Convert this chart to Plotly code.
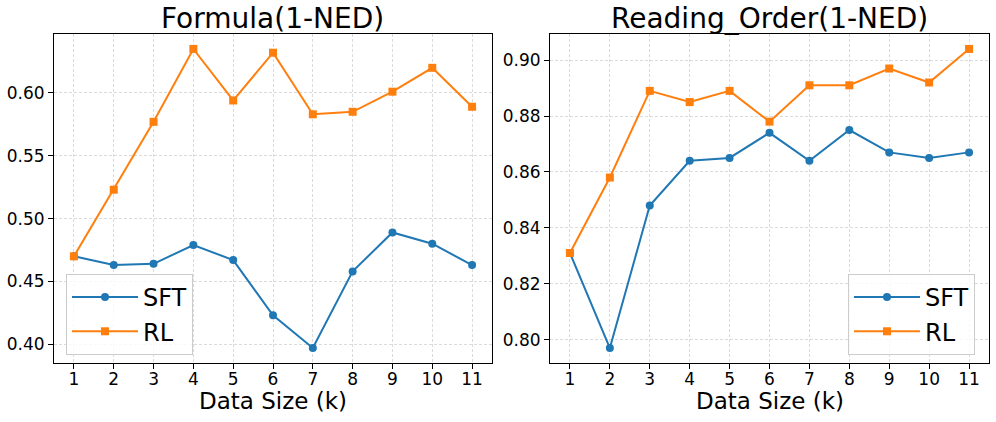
import plotly.graph_objects as go

data_size = [1, 2, 3, 4, 5, 6, 7, 8, 9, 10, 11]
formula_sft = [0.470, 0.463, 0.464, 0.479, 0.467, 0.423, 0.397, 0.458, 0.489, 0.480, 0.463]
formula_rl = [0.470, 0.523, 0.577, 0.635, 0.594, 0.632, 0.583, 0.585, 0.601, 0.620, 0.589]
reading_sft = [0.831, 0.797, 0.848, 0.864, 0.865, 0.874, 0.864, 0.875, 0.867, 0.865, 0.867]
reading_rl = [0.831, 0.858, 0.889, 0.885, 0.889, 0.878, 0.891, 0.891, 0.897, 0.892, 0.904]
titles = ["Formula(1-NED)", "Reading_Order(1-NED)"]
x_label = "Data Size (k)"

BLUE = "#1f77b4"
ORANGE = "#ff7f0e"
FONT = "DejaVu Sans"

fig = go.Figure()

def add_pair(sft, rl, xa, ya, leg):
    fig.add_trace(go.Scatter(x=data_size, y=sft, name="SFT", mode="lines+markers",
                             line=dict(color=BLUE, width=2),
                             marker=dict(symbol="circle", size=8, color=BLUE),
                             xaxis=xa, yaxis=ya, legend=leg))
    fig.add_trace(go.Scatter(x=data_size, y=rl, name="RL", mode="lines+markers",
                             line=dict(color=ORANGE, width=2),
                             marker=dict(symbol="square", size=8, color=ORANGE),
                             xaxis=xa, yaxis=ya, legend=leg))

add_pair(formula_sft, formula_rl, "x", "y", "legend")
add_pair(reading_sft, reading_rl, "x2", "y2", "legend2")

W, H = 996, 422
dom_x1 = [54 / W, 492 / W]
dom_x2 = [550 / W, 989 / W]
dom_y = [(H - 363) / H, (H - 34) / H]

grid = dict(showgrid=True, gridcolor="rgba(0,0,0,0.14)", griddash="3px,2px", gridwidth=1)
axis_common = dict(showline=True, linecolor="black", linewidth=1, mirror=True,
                   ticks="outside", ticklen=5, tickcolor="black", zeroline=False,
                   tickfont=dict(family=FONT, size=17, color="black"), **grid)

xa = dict(range=[0.5, 11.5], tickmode="array", tickvals=data_size,
          ticklabelstandoff=-4, **axis_common)

def yrange(vals):
    lo, hi = min(vals), max(vals)
    m = (hi - lo) * 0.05
    return [lo - m, hi + m]

legend_common = dict(xanchor="left", yanchor="top", itemwidth=66,
                     bgcolor="rgba(255,255,255,0.8)", bordercolor="#cccccc", borderwidth=1,
                     font=dict(family=FONT, size=24, color="black"))

def text_ann(text, x, y_px, size):
    return dict(text=text, x=x, y=(H - y_px) / H, xref="paper", yref="paper",
                showarrow=False, xanchor="center", yanchor="middle",
                font=dict(family=FONT, size=size, color="black"))

cx1 = (dom_x1[0] + dom_x1[1]) / 2
cx2 = (dom_x2[0] + dom_x2[1]) / 2

fig.update_layout(
    width=W, height=H,
    margin=dict(l=0, r=0, t=0, b=0),
    paper_bgcolor="white", plot_bgcolor="white",
    font=dict(family=FONT, color="black"),
    xaxis=dict(domain=dom_x1, anchor="y", **xa),
    xaxis2=dict(domain=dom_x2, anchor="y2", **xa),
    yaxis=dict(domain=dom_y, anchor="x", range=yrange(formula_sft + formula_rl),
               dtick=0.05, tick0=0.4, tickformat=".2f", **axis_common),
    yaxis2=dict(domain=dom_y, anchor="x2", range=yrange(reading_sft + reading_rl),
                dtick=0.02, tick0=0.8, tickformat=".2f", **axis_common),
    legend=dict(x=66 / W, y=(H - 274) / H, **legend_common),
    legend2=dict(x=848 / W, y=(H - 274) / H, **legend_common),
    annotations=[
        text_ann(titles[0], cx1, 18, 28),
        text_ann(titles[1], cx2, 18, 28),
        text_ann(x_label, cx1, 401, 23),
        text_ann(x_label, cx2, 401, 23),
    ],
)

fig.write_html("out.html", config={"displayModeBar": False},
               post_script="document.body.style.margin='0';document.body.style.overflow='hidden';")
